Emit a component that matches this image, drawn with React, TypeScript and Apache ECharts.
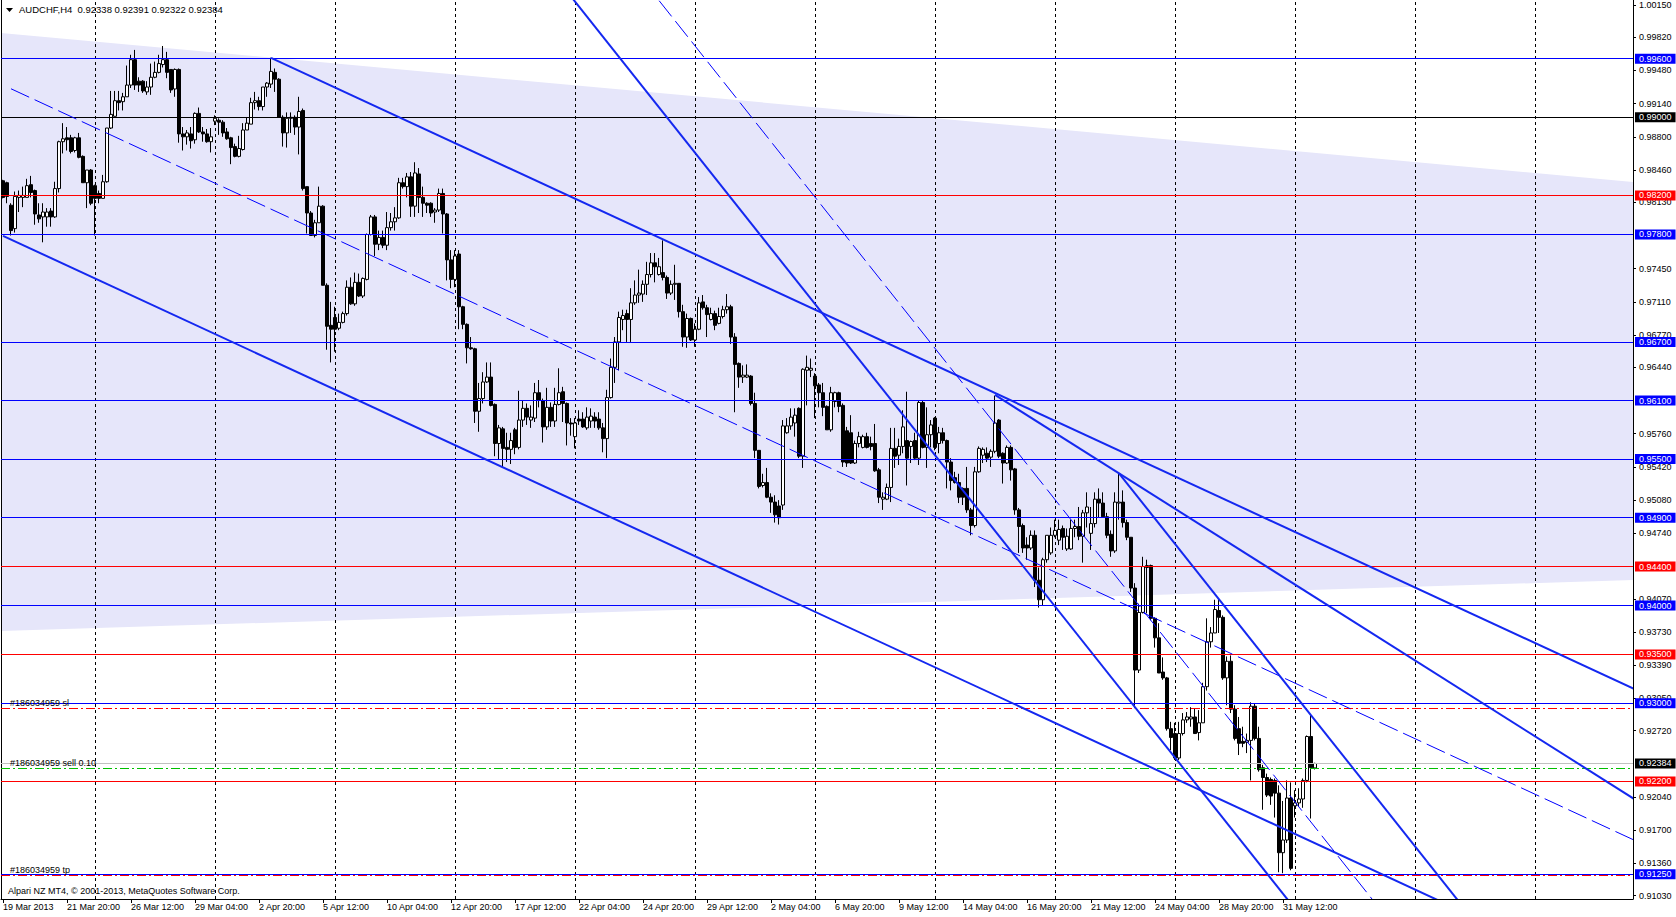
import React, { useEffect, useRef } from 'react';
import * as echarts from 'echarts';

const W = 1676;
const H = 917;
const FONT = "Tahoma, 'Liberation Sans', Arial, sans-serif";

const SYMBOL = 'AUDCHF,H4';
const COPYRIGHT = 'Alpari NZ MT4, \u00A9 2001-2013, MetaQuotes Software Corp.';
const TOTAL_BARS = 408;
const LABEL_STEP = 16;
const MONTHS = ['Jan', 'Feb', 'Mar', 'Apr', 'May', 'Jun', 'Jul', 'Aug', 'Sep', 'Oct', 'Nov', 'Dec'];

// H4 candles: [open, close, low, high]
const candles: number[][] = [
  [0.9835,0.9818,0.9817,0.9836],[0.9833,0.9819,0.9812,0.9834],[0.9810,0.9784,0.9779,0.9812],[0.9786,0.9819,0.9782,0.9824],[0.9818,0.9820,0.9803,0.9825],[0.9818,0.9820,0.9808,0.9829],
  [0.9818,0.9830,0.9818,0.9837],[0.9831,0.9823,0.9818,0.9840],[0.9825,0.9801,0.9790,0.9826],[0.9800,0.9796,0.9792,0.9812],[0.9798,0.9803,0.9772,0.9812],[0.9798,0.9803,0.9788,0.9807],
  [0.9804,0.9798,0.9788,0.9807],[0.9798,0.9827,0.9797,0.9834],[0.9827,0.9875,0.9823,0.9876],[0.9875,0.9878,0.9863,0.9894],[0.9879,0.9877,0.9866,0.9890],[0.9879,0.9865,0.9863,0.9882],
  [0.9866,0.9879,0.9864,0.9880],[0.9879,0.9859,0.9858,0.9884],[0.9860,0.9833,0.9833,0.9861],[0.9833,0.9846,0.9807,0.9846],[0.9846,0.9812,0.9810,0.9847],[0.9830,0.9817,0.9779,0.9831],
  [0.9822,0.9817,0.9812,0.9825],[0.9817,0.9834,0.9817,0.9841],[0.9834,0.9889,0.9833,0.9889],[0.9889,0.9903,0.9888,0.9927],[0.9901,0.9917,0.9901,0.9927],[0.9917,0.9915,0.9907,0.9927],
  [0.9916,0.9921,0.9907,0.9925],[0.9921,0.9933,0.9921,0.9953],[0.9933,0.9959,0.9930,0.9964],[0.9959,0.9933,0.9928,0.9969],[0.9937,0.9933,0.9926,0.9941],[0.9937,0.9927,0.9925,0.9938],
  [0.9926,0.9931,0.9923,0.9937],[0.9931,0.9941,0.9923,0.9955],[0.9941,0.9946,0.9940,0.9957],[0.9946,0.9955,0.9945,0.9964],[0.9954,0.9959,0.9951,0.9973],[0.9959,0.9946,0.9940,0.9967],
  [0.9949,0.9928,0.9925,0.9949],[0.9929,0.9949,0.9921,0.9950],[0.9949,0.9883,0.9874,0.9950],[0.9883,0.9880,0.9866,0.9890],[0.9880,0.9884,0.9872,0.9887],[0.9883,0.9876,0.9868,0.9890],
  [0.9877,0.9904,0.9873,0.9905],[0.9904,0.9885,0.9884,0.9910],[0.9885,0.9883,0.9875,0.9890],[0.9883,0.9875,0.9874,0.9888],[0.9875,0.9880,0.9864,0.9889],[0.9896,0.9899,0.9892,0.9902],
  [0.9897,0.9895,0.9882,0.9899],[0.9895,0.9884,0.9880,0.9897],[0.9885,0.9878,0.9877,0.9889],[0.9879,0.9869,0.9852,0.9880],[0.9870,0.9860,0.9859,0.9873],[0.9860,0.9868,0.9859,0.9881],
  [0.9867,0.9887,0.9866,0.9894],[0.9887,0.9894,0.9887,0.9900],[0.9893,0.9915,0.9893,0.9920],[0.9915,0.9917,0.9908,0.9926],[0.9917,0.9911,0.9907,0.9921],[0.9911,0.9931,0.9907,0.9931],
  [0.9931,0.9935,0.9921,0.9936],[0.9934,0.9947,0.9930,0.9961],[0.9946,0.9939,0.9926,0.9950],[0.9939,0.9900,0.9900,0.9940],[0.9900,0.9884,0.9870,0.9902],[0.9884,0.9899,0.9869,0.9905],
  [0.9900,0.9899,0.9884,0.9905],[0.9900,0.9890,0.9882,0.9902],[0.9890,0.9906,0.9862,0.9921],[0.9907,0.9827,0.9825,0.9909],[0.9829,0.9802,0.9781,0.9829],[0.9802,0.9779,0.9779,0.9804],
  [0.9779,0.9792,0.9777,0.9795],[0.9792,0.9809,0.9792,0.9829],[0.9809,0.9728,0.9728,0.9810],[0.9728,0.9686,0.9662,0.9730],[0.9687,0.9683,0.9649,0.9711],[0.9695,0.9683,0.9660,0.9706],
  [0.9684,0.9690,0.9682,0.9699],[0.9690,0.9699,0.9689,0.9701],[0.9699,0.9726,0.9697,0.9733],[0.9726,0.9709,0.9708,0.9736],[0.9709,0.9731,0.9707,0.9741],[0.9731,0.9717,0.9716,0.9740],
  [0.9717,0.9735,0.9715,0.9736],[0.9734,0.9780,0.9733,0.9781],[0.9780,0.9798,0.9779,0.9800],[0.9798,0.9770,0.9758,0.9800],[0.9770,0.9777,0.9764,0.9784],[0.9777,0.9769,0.9766,0.9784],
  [0.9769,0.9787,0.9764,0.9803],[0.9787,0.9793,0.9784,0.9802],[0.9793,0.9797,0.9784,0.9808],[0.9797,0.9833,0.9796,0.9838],[0.9833,0.9829,0.9827,0.9838],[0.9829,0.9839,0.9818,0.9843],
  [0.9839,0.9809,0.9798,0.9844],[0.9809,0.9843,0.9798,0.9854],[0.9842,0.9818,0.9802,0.9848],[0.9818,0.9812,0.9798,0.9829],[0.9812,0.9810,0.9802,0.9813],[0.9812,0.9802,0.9798,0.9813],
  [0.9803,0.9805,0.9792,0.9807],[0.9805,0.9822,0.9803,0.9827],[0.9822,0.9801,0.9781,0.9827],[0.9801,0.9754,0.9733,0.9802],[0.9754,0.9734,0.9725,0.9764],[0.9734,0.9758,0.9726,0.9764],
  [0.9760,0.9706,0.9683,0.9764],[0.9706,0.9688,0.9683,0.9707],[0.9688,0.9664,0.9648,0.9689],[0.9664,0.9663,0.9662,0.9675],[0.9663,0.9599,0.9587,0.9664],[0.9599,0.9612,0.9578,0.9628],
  [0.9612,0.9629,0.9607,0.9639],[0.9629,0.9634,0.9628,0.9649],[0.9634,0.9605,0.9604,0.9649],[0.9606,0.9566,0.9553,0.9607],[0.9566,0.9582,0.9550,0.9585],[0.9581,0.9561,0.9542,0.9583],
  [0.9562,0.9560,0.9547,0.9577],[0.9560,0.9569,0.9545,0.9577],[0.9580,0.9562,0.9555,0.9582],[0.9562,0.9590,0.9560,0.9620],[0.9590,0.9602,0.9583,0.9610],[0.9602,0.9593,0.9585,0.9607],
  [0.9590,0.9593,0.9582,0.9605],[0.9592,0.9618,0.9588,0.9628],[0.9618,0.9610,0.9603,0.9631],[0.9610,0.9583,0.9567,0.9612],[0.9583,0.9603,0.9580,0.9623],[0.9603,0.9589,0.9583,0.9608],
  [0.9589,0.9606,0.9583,0.9623],[0.9606,0.9618,0.9605,0.9643],[0.9619,0.9607,0.9588,0.9624],[0.9607,0.9587,0.9564,0.9608],[0.9587,0.9586,0.9574,0.9592],[0.9573,0.9587,0.9561,0.9592],
  [0.9591,0.9589,0.9585,0.9600],[0.9591,0.9583,0.9582,0.9598],[0.9582,0.9593,0.9580,0.9603],[0.9589,0.9594,0.9582,0.9602],[0.9593,0.9589,0.9582,0.9598],[0.9591,0.9582,0.9580,0.9598],
  [0.9582,0.9571,0.9557,0.9587],[0.9571,0.9613,0.9551,0.9621],[0.9613,0.9644,0.9612,0.9653],[0.9644,0.9670,0.9628,0.9675],[0.9670,0.9695,0.9641,0.9701],[0.9693,0.9697,0.9682,0.9703],
  [0.9699,0.9693,0.9670,0.9703],[0.9693,0.9710,0.9670,0.9725],[0.9710,0.9718,0.9708,0.9733],[0.9718,0.9720,0.9710,0.9744],[0.9719,0.9729,0.9711,0.9733],[0.9729,0.9739,0.9718,0.9752],
  [0.9739,0.9751,0.9736,0.9761],[0.9751,0.9747,0.9731,0.9761],[0.9739,0.9747,0.9738,0.9756],[0.9741,0.9736,0.9733,0.9774],[0.9736,0.9720,0.9714,0.9738],[0.9720,0.9729,0.9718,0.9733],
  [0.9729,0.9730,0.9713,0.9749],[0.9730,0.9701,0.9695,0.9730],[0.9701,0.9675,0.9665,0.9708],[0.9675,0.9694,0.9664,0.9699],[0.9694,0.9672,0.9671,0.9695],[0.9672,0.9683,0.9665,0.9689],
  [0.9683,0.9710,0.9682,0.9716],[0.9711,0.9705,0.9703,0.9718],[0.9705,0.9698,0.9675,0.9708],[0.9693,0.9699,0.9692,0.9705],[0.9699,0.9687,0.9682,0.9702],[0.9689,0.9696,0.9688,0.9705],
  [0.9696,0.9703,0.9694,0.9707],[0.9703,0.9706,0.9699,0.9719],[0.9706,0.9675,0.9668,0.9708],[0.9675,0.9647,0.9598,0.9679],[0.9648,0.9634,0.9623,0.9649],[0.9634,0.9636,0.9628,0.9646],
  [0.9634,0.9636,0.9633,0.9647],[0.9635,0.9607,0.9605,0.9636],[0.9607,0.9559,0.9551,0.9618],[0.9559,0.9522,0.9520,0.9559],[0.9523,0.9526,0.9521,0.9535],[0.9526,0.9511,0.9510,0.9541],
  [0.9511,0.9506,0.9495,0.9515],[0.9506,0.9493,0.9485,0.9513],[0.9502,0.9490,0.9483,0.9508],[0.9503,0.9584,0.9498,0.9590],[0.9577,0.9584,0.9576,0.9592],[0.9584,0.9593,0.9580,0.9602],
  [0.9587,0.9595,0.9573,0.9602],[0.9602,0.9553,0.9551,0.9603],[0.9553,0.9642,0.9541,0.9643],[0.9641,0.9644,0.9605,0.9656],[0.9641,0.9643,0.9634,0.9653],[0.9635,0.9625,0.9592,0.9638],
  [0.9626,0.9618,0.9603,0.9628],[0.9618,0.9603,0.9594,0.9628],[0.9604,0.9580,0.9580,0.9605],[0.9580,0.9618,0.9578,0.9624],[0.9609,0.9618,0.9603,0.9619],[0.9618,0.9604,0.9598,0.9619],
  [0.9605,0.9547,0.9542,0.9607],[0.9579,0.9546,0.9542,0.9583],[0.9577,0.9546,0.9545,0.9595],[0.9546,0.9566,0.9545,0.9569],[0.9566,0.9573,0.9562,0.9578],[0.9562,0.9573,0.9561,0.9575],
  [0.9573,0.9562,0.9561,0.9577],[0.9566,0.9563,0.9559,0.9573],[0.9566,0.9538,0.9537,0.9586],[0.9539,0.9511,0.9505,0.9541],[0.9509,0.9511,0.9498,0.9516],[0.9509,0.9521,0.9508,0.9525],
  [0.9521,0.9561,0.9506,0.9582],[0.9561,0.9553,0.9541,0.9582],[0.9554,0.9563,0.9544,0.9571],[0.9563,0.9583,0.9556,0.9600],[0.9569,0.9551,0.9523,0.9619],[0.9563,0.9568,0.9546,0.9569],
  [0.9569,0.9551,0.9549,0.9577],[0.9551,0.9608,0.9544,0.9610],[0.9608,0.9562,0.9561,0.9610],[0.9562,0.9575,0.9541,0.9603],[0.9575,0.9585,0.9562,0.9590],[0.9592,0.9562,0.9559,0.9593],
  [0.9566,0.9577,0.9556,0.9583],[0.9577,0.9569,0.9566,0.9582],[0.9569,0.9547,0.9520,0.9570],[0.9547,0.9528,0.9518,0.9551],[0.9531,0.9526,0.9525,0.9537],[0.9526,0.9511,0.9505,0.9535],
  [0.9520,0.9511,0.9503,0.9521],[0.9520,0.9498,0.9495,0.9542],[0.9498,0.9482,0.9472,0.9500],[0.9482,0.9537,0.9480,0.9542],[0.9537,0.9561,0.9536,0.9563],[0.9554,0.9560,0.9546,0.9562],
  [0.9556,0.9551,0.9547,0.9562],[0.9552,0.9558,0.9542,0.9560],[0.9558,0.9587,0.9556,0.9615],[0.9590,0.9553,0.9551,0.9591],[0.9556,0.9546,0.9525,0.9557],[0.9546,0.9562,0.9545,0.9564],
  [0.9562,0.9539,0.9528,0.9564],[0.9540,0.9498,0.9493,0.9541],[0.9498,0.9481,0.9454,0.9500],[0.9482,0.9459,0.9454,0.9484],[0.9462,0.9459,0.9447,0.9470],[0.9459,0.9472,0.9457,0.9477],
  [0.9472,0.9426,0.9419,0.9477],[0.9426,0.9406,0.9398,0.9439],[0.9406,0.9447,0.9400,0.9449],[0.9447,0.9472,0.9444,0.9472],[0.9454,0.9472,0.9452,0.9480],[0.9472,0.9477,0.9470,0.9488],
  [0.9467,0.9478,0.9462,0.9488],[0.9479,0.9470,0.9457,0.9482],[0.9458,0.9471,0.9456,0.9479],[0.9458,0.9479,0.9457,0.9488],[0.9479,0.9481,0.9470,0.9488],[0.9481,0.9471,0.9467,0.9501],
  [0.9471,0.9495,0.9444,0.9498],[0.9495,0.9501,0.9480,0.9516],[0.9474,0.9484,0.9457,0.9501],[0.9484,0.9509,0.9480,0.9516],[0.9509,0.9505,0.9490,0.9520],[0.9505,0.9491,0.9490,0.9516],
  [0.9491,0.9472,0.9469,0.9495],[0.9473,0.9456,0.9450,0.9477],[0.9456,0.9506,0.9454,0.9516],[0.9505,0.9506,0.9488,0.9535],[0.9506,0.9485,0.9480,0.9518],[0.9485,0.9470,0.9467,0.9488],
  [0.9470,0.9418,0.9414,0.9470],[0.9418,0.9334,0.9295,0.9423],[0.9334,0.9393,0.9331,0.9402],[0.9393,0.9440,0.9392,0.9450],[0.9439,0.9441,0.9392,0.9447],[0.9441,0.9387,0.9385,0.9442],
  [0.9387,0.9367,0.9357,0.9388],[0.9367,0.9331,0.9331,0.9382],[0.9332,0.9326,0.9324,0.9347],[0.9326,0.9274,0.9272,0.9327],[0.9274,0.9265,0.9252,0.9281],[0.9269,0.9244,0.9242,0.9280],
  [0.9244,0.9269,0.9242,0.9281],[0.9269,0.9283,0.9267,0.9290],[0.9283,0.9286,0.9280,0.9291],[0.9284,0.9286,0.9276,0.9296],[0.9286,0.9269,0.9269,0.9295],[0.9270,0.9280,0.9262,0.9293],
  [0.9280,0.9317,0.9280,0.9321],[0.9317,0.9363,0.9313,0.9387],[0.9363,0.9372,0.9357,0.9378],[0.9372,0.9396,0.9372,0.9406],[0.9395,0.9388,0.9372,0.9407],[0.9388,0.9326,0.9324,0.9390],
  [0.9326,0.9343,0.9298,0.9348],[0.9343,0.9294,0.9290,0.9349],[0.9294,0.9264,0.9262,0.9298],[0.9274,0.9259,0.9247,0.9286],[0.9261,0.9259,0.9255,0.9276],[0.9260,0.9262,0.9249,0.9269],
  [0.9262,0.9297,0.9221,0.9301],[0.9297,0.9264,0.9262,0.9300],[0.9264,0.9232,0.9230,0.9276],[0.9234,0.9224,0.9191,0.9237],[0.9224,0.9206,0.9204,0.9228],[0.9222,0.9205,0.9196,0.9224],
  [0.9221,0.9208,0.9183,0.9223],[0.9208,0.9147,0.9127,0.9216],[0.9147,0.9160,0.9126,0.9200],[0.9160,0.9203,0.9157,0.9221],[0.9203,0.9131,0.9129,0.9219],[0.9195,0.9198,0.9183,0.9211],
  [0.9198,0.9202,0.9194,0.9213],[0.9202,0.9221,0.9193,0.9223],[0.9221,0.9266,0.9219,0.9267],[0.9266,0.9234,0.9182,0.9288],[0.92338,0.92384,0.92322,0.92391],
];

// Price scale
const yMin = 0.90996;
const yMax = 1.00201;
const yTicks = [1.0015, 0.9982, 0.9948, 0.9914, 0.988, 0.9846, 0.9813, 0.9745, 0.9711, 0.9677, 0.9644, 0.9576,
  0.9542, 0.9508, 0.9474, 0.9407, 0.9373, 0.9339, 0.9305, 0.9272, 0.9204, 0.917, 0.9136, 0.9103];

// Horizontal levels with price tags on the axis
const levelPrices = [0.996, 0.99, 0.982, 0.978, 0.967, 0.961, 0.955, 0.949, 0.944, 0.94, 0.935, 0.93, 0.922, 0.9125];
const levelColors = ['#0000ff', '#000000', '#ff0000', '#0000ff', '#0000ff', '#0000ff', '#0000ff', '#0000ff',
  '#ff0000', '#0000ff', '#ff0000', '#0000ff', '#ff0000', '#0000ff'];

// Order lines
const orderNames = ['#186034959 sl', '#186034959 sell 0.10', '#186034959 tp'];
const orderPrices = [0.9295, 0.92335, 0.9124];
const orderColors = ['#ff0000', '#00c000', '#ff0000'];

// Shaded channel (bar index, price)
const shadeBars = [-1, 408];
const shadeTop = [0.99866, 0.98336];
const shadeBottom = [0.93739, 0.94263];

// Trend lines: [bar, price] -> [bar, price]
const trendLines = [
  { from: [67, 0.99608], to: [410, 0.93105], width: 2, dash: null as number[] | null },
  { from: [0, 0.97786], to: [460, 0.89064], width: 2, dash: null },
  { from: [2, 0.99292], to: [410, 0.91557], width: 1, dash: [20, 6] },
  { from: [140, 1.0034], to: [330, 0.90534], width: 2, dash: null },
  { from: [160, 1.00402], to: [350, 0.90596], width: 1, dash: [20, 6] },
  { from: [279, 0.95355], to: [380, 0.90142], width: 2, dash: null },
  { from: [248, 0.96157], to: [410, 0.91963], width: 2, dash: null },
];
const TREND_COLOR = '#1428f0';

// Time axis (H4 bars, weekdays only)
const pad = (n: number) => (n < 10 ? '0' + n : '' + n);
const barTimes: Date[] = [];
{
  let t = Date.UTC(2013, 2, 19, 4, 0);
  while (barTimes.length < TOTAL_BARS) {
    const d = new Date(t);
    const wd = d.getUTCDay();
    if (wd !== 0 && wd !== 6) barTimes.push(d);
    t += 4 * 3600 * 1000;
  }
}
const categories = barTimes.map((d, i) =>
  i === 0
    ? `${d.getUTCDate()} ${MONTHS[d.getUTCMonth()]} ${d.getUTCFullYear()}`
    : `${d.getUTCDate()} ${MONTHS[d.getUTCMonth()]} ${pad(d.getUTCHours())}:${pad(d.getUTCMinutes())}`
);
const weekStarts: number[] = [];
barTimes.forEach((d, i) => {
  if (d.getUTCDay() === 1 && d.getUTCHours() === 0) weekStarts.push(i);
});

const isLabelBar = (i: number) => i % LABEL_STEP === 0 && i < candles.length;

function buildOption(): any {
  const last = candles[candles.length - 1];
  const header = `${SYMBOL}  ${last[0].toFixed(5)} ${last[3].toFixed(5)} ${last[2].toFixed(5)} ${last[1].toFixed(5)}`;
  const bid = last[1];

  const tag = (bg: string, text: string) => ({
    show: true,
    position: 'end',
    distance: 2,
    formatter: text,
    color: '#ffffff',
    backgroundColor: bg,
    padding: [1, 4, 0, 4],
    fontSize: 9,
    lineHeight: 9,
    fontFamily: FONT,
  });

  const levelData: any[] = levelPrices.map((p, i) => ({
    yAxis: p,
    lineStyle: { color: levelColors[i], width: 1, type: 'solid' },
    label: tag(levelColors[i], p.toFixed(5)),
  }));
  levelData.push({
    yAxis: bid,
    lineStyle: { color: '#c0c0c0', width: 1, type: 'solid' },
    label: tag('#000000', bid.toFixed(5)),
  });
  orderPrices.forEach((p, i) => {
    levelData.push({
      yAxis: p,
      lineStyle: { color: orderColors[i], width: 1, type: [9, 3, 2, 3] },
      label: {
        show: true,
        position: 'insideStartTop',
        distance: [9, 1],
        formatter: orderNames[i],
        color: '#000000',
        fontSize: 9,
        fontFamily: FONT,
      },
    });
  });

  return {
    animation: false,
    backgroundColor: '#ffffff',
    textStyle: { fontFamily: FONT },
    grid: { left: 1, right: 43, top: 0, bottom: 18, containLabel: false },
    xAxis: {
      type: 'category',
      data: categories,
      boundaryGap: true,
      axisLine: { show: true, lineStyle: { color: '#000000', width: 1 } },
      axisTick: {
        show: true,
        interval: (i: number) => isLabelBar(i),
        alignWithLabel: true,
        length: 4,
        lineStyle: { color: '#000000' },
      },
      axisLabel: {
        interval: (i: number) => isLabelBar(i),
        align: 'left',
        fontSize: 9,
        color: '#000000',
        margin: 3,
        fontFamily: FONT,
      },
      splitLine: { show: false },
    },
    yAxis: [
      {
        type: 'value',
        position: 'right',
        min: yMin,
        max: yMax,
        axisLine: { show: true, lineStyle: { color: '#000000' } },
        axisTick: { show: true, customValues: yTicks, length: 3, lineStyle: { color: '#000000' } },
        axisLabel: {
          customValues: yTicks,
          formatter: (v: number) => v.toFixed(5),
          fontSize: 9,
          color: '#000000',
          margin: 6,
          fontFamily: FONT,
        },
        splitLine: { show: false },
      },
      {
        type: 'value',
        position: 'left',
        min: yMin,
        max: yMax,
        axisLine: { show: true, lineStyle: { color: '#000000' } },
        axisTick: { show: false },
        axisLabel: { show: false },
        splitLine: { show: false },
      },
    ],
    graphic: [
      { type: 'polygon', shape: { points: [[6, 8], [13, 8], [9.5, 12]] }, style: { fill: '#000000' } },
      {
        type: 'text',
        left: 19,
        top: 4,
        style: { text: header, fontSize: 9.5, fontFamily: FONT, fill: '#000000' },
      },
      {
        type: 'text',
        left: 8,
        top: 886,
        style: { text: COPYRIGHT, fontSize: 9, fontFamily: FONT, fill: '#000000' },
      },
    ],
    series: [
      {
        type: 'custom',
        name: 'channel-fill',
        z: 0,
        silent: true,
        clip: true,
        data: [[0, shadeTop[0]]],
        renderItem: (_params: any, api: any) => {
          const pts = [
            api.coord([shadeBars[0], shadeTop[0]]),
            api.coord([shadeBars[1], shadeTop[1]]),
            api.coord([shadeBars[1], shadeBottom[1]]),
            api.coord([shadeBars[0], shadeBottom[0]]),
          ];
          return { type: 'polygon', shape: { points: pts }, style: { fill: '#e6e6fa' } };
        },
      },
      {
        type: 'line',
        name: 'grid',
        data: [],
        z: 1,
        silent: true,
        markLine: {
          silent: true,
          z: 1,
          symbol: ['none', 'none'],
          label: { show: false },
          emphasis: { disabled: true },
          lineStyle: { color: '#000000', type: [3, 3], width: 1 },
          data: weekStarts.map((i) => ({ xAxis: i })),
        },
      },
      {
        type: 'candlestick',
        name: SYMBOL,
        z: 2,
        barWidth: 3,
        silent: true,
        data: candles,
        itemStyle: {
          color: '#ffffff',
          color0: '#000000',
          borderColor: '#000000',
          borderColor0: '#000000',
          borderWidth: 1,
        },
        markLine: {
          silent: true,
          z: 3,
          symbol: ['none', 'none'],
          precision: 5,
          emphasis: { disabled: true },
          data: levelData,
        },
      },
      {
        type: 'custom',
        name: 'trendlines',
        z: 4,
        silent: true,
        clip: true,
        data: trendLines.map((t) => [t.from[0], t.from[1]]),
        renderItem: (params: any, api: any) => {
          const t = trendLines[params.dataIndex];
          const a = api.coord([t.from[0], t.from[1]]);
          const b = api.coord([t.to[0], t.to[1]]);
          return {
            type: 'line',
            shape: { x1: a[0], y1: a[1], x2: b[0], y2: b[1] },
            style: {
              stroke: t.width === 2 ? TREND_COLOR : '#0000ff',
              lineWidth: t.width,
              lineDash: t.dash || null,
              fill: null,
            },
          };
        },
      },
    ],
  };
}

export default function App() {
  const ref = useRef<HTMLDivElement>(null);
  useEffect(() => {
    if (!ref.current) return;
    const chart = echarts.init(ref.current, null, { renderer: 'svg', width: W, height: H });
    chart.setOption(buildOption());
    return () => chart.dispose();
  }, []);
  return (
    <div
      ref={ref}
      style={{ position: 'fixed', left: 0, top: 0, width: W, height: H, background: '#ffffff' }}
    />
  );
}
